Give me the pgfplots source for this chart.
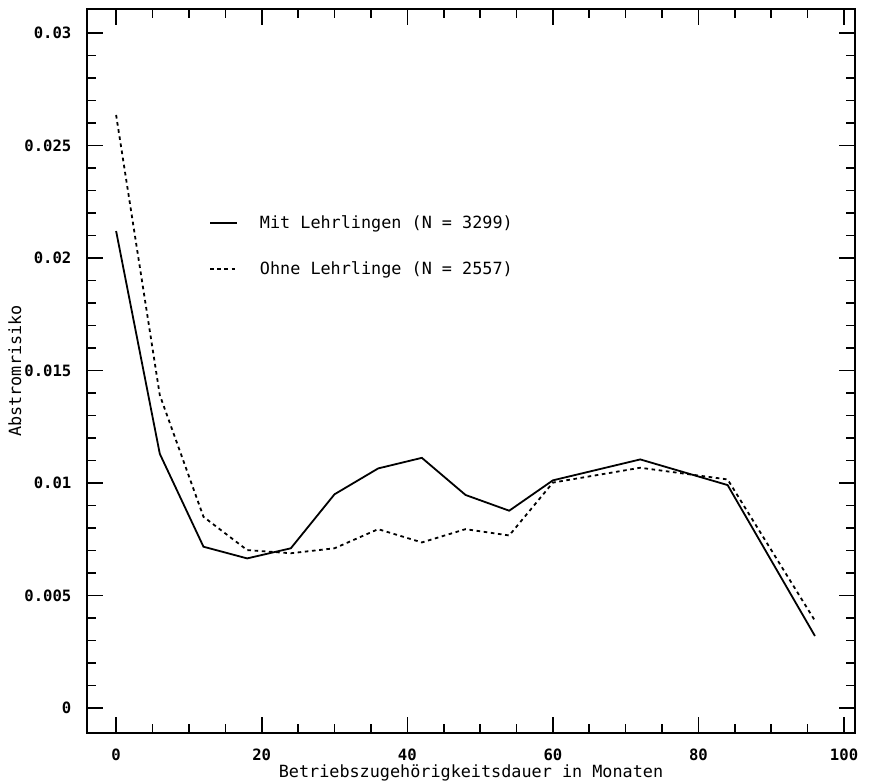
\documentclass[border=0pt]{standalone}
\usepackage{fontspec}
\setmainfont{DejaVu Sans Mono}
\usepackage{pgfplots}
\pgfplotsset{compat=1.18}
\begin{document}
\begin{tikzpicture}
\begin{axis}[
  scale only axis, width=384pt, height=362pt,
  xmin=-4, xmax=101.5, ymin=-0.00111, ymax=0.03107,
  axis line style={line width=0.9pt},
  tick pos=both, tick align=inside,
  xtick={0,20,40,60,80,100}, xticklabels={0,20,40,60,80,100},
  minor x tick num=3,
  ytick={0,0.005,0.01,0.015,0.02,0.025,0.03},
  yticklabels={0,0.005,0.01,0.015,0.02,0.025,0.03},
  scaled y ticks=false, scaled x ticks=false,
  minor y tick num=4,
  major tick length=8pt, minor tick length=4.5pt,
  every tick/.style={black, line width=0.8pt},
  tick label style={font=\bfseries\fontsize{7.8}{9}\selectfont},
  xticklabel style={yshift=-4.5pt},
  yticklabel style={xshift=-4.3pt},
  xlabel={Betriebszugehörigkeitsdauer in Monaten},
  ylabel={Abstromrisiko},
  label style={font=\fontsize{8.4}{10}\selectfont},
  xlabel style={at={(axis description cs:0.5,-0.0552)}, anchor=center},
  ylabel style={at={(axis description cs:-0.094,0.5)}, anchor=center},
  legend style={at={(axis cs:11.9,0.02227)}, anchor=north west, draw=none, fill=none,
    font=\fontsize{8.4}{10}\selectfont, row sep=11pt},
  legend cell align=left,
  legend image code/.code={\draw[#1] (0pt,0pt) -- (13.5pt,0pt); \path (22.5pt,0pt);},
]
\addplot[black, line width=0.9pt] coordinates {
(0,0.0212) (6,0.01130) (12,0.00717) (18,0.00665) (24,0.00710) (30,0.00950)
(36,0.01065) (42,0.01112) (48,0.00947) (54,0.00877) (60,0.01012) (72,0.01105)
(84,0.00991) (96,0.00320)};
\addlegendentry{Mit Lehrlingen (N = 3299)}
\addplot[black, line width=0.9pt, dash pattern=on 1.8pt off 1.8pt] coordinates {
(0,0.02636) (6,0.01391) (12,0.00850) (18,0.00702) (24,0.00688) (30,0.00710)
(36,0.00795) (42,0.00736) (48,0.00795) (54,0.00767) (60,0.01002) (72,0.01068)
(84,0.01016) (96,0.00388)};
\addlegendentry{Ohne Lehrlinge (N = 2557)}
\end{axis}
\pgfresetboundingbox
\path[use as bounding box] ([xshift=-43.5pt,yshift=-25pt]current axis.south west) rectangle ([xshift=7pt,yshift=4.5pt]current axis.north east);
\end{tikzpicture}
\end{document}
